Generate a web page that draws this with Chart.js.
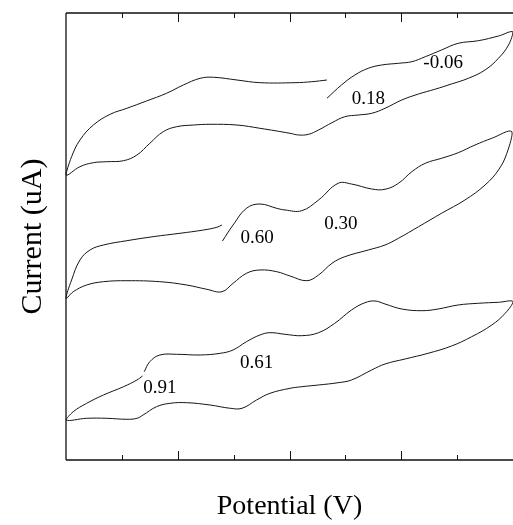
<!DOCTYPE html>
<html>
<head>
<meta charset="utf-8">
<script src="https://cdn.jsdelivr.net/npm/chart.js@4/dist/chart.umd.min.js"></script>
<style>
html,body{margin:0;padding:0;background:#fff;}
#wrap{width:513px;height:525px;position:relative;}
</style>
</head>
<body>
<div id="wrap"><canvas id="c"></canvas></div>
<script>
// Potential axis: 0..8 (tick intervals), Current axis: 0..100 (arbitrary units)
const curveA_x = [4.67,4.40,4.10,3.47,3.06,2.64,2.40,2.10,1.80,1.44,1.09,0.79,0.49,0.25,0.10,0.00,
  0.25,0.49,0.73,1.03,1.27,1.50,1.74,1.98,2.28,2.58,3.06,3.47,4.01,4.16,4.34,4.52,4.76,4.99,5.23,5.47,5.71,6.01,6.31,6.60,6.90,7.20,7.50,7.74,7.92,8.00,
  7.74,7.38,7.02,6.72,6.43,6.19,5.95,5.65,5.41,5.17,4.93,4.67];
const curveA_y = [85.01,84.63,84.41,84.41,85.01,85.62,85.39,83.89,82.04,80.31,78.68,77.34,74.94,71.59,67.85,63.76,
  65.62,66.51,66.73,66.96,68.23,70.85,73.45,74.56,74.94,75.10,74.94,74.21,73.09,72.71,72.86,73.83,75.46,76.80,77.18,77.56,78.68,80.54,81.88,82.93,84.12,85.39,87.25,89.87,92.84,95.75,
  94.85,93.80,93.22,91.72,90.22,89.11,88.75,88.37,87.63,86.13,83.89,80.92];

const curveB_x = [2.79,2.70,2.46,2.04,1.56,1.09,0.67,0.43,0.25,0.10,0.00,
  0.13,0.37,0.67,1.09,1.68,2.16,2.52,2.79,2.99,3.23,3.47,3.77,4.01,4.31,4.52,4.76,4.99,5.41,5.71,5.95,6.31,6.72,7.14,7.50,7.74,7.89,7.98,
  7.62,7.32,7.02,6.72,6.43,6.19,5.95,5.71,5.47,5.11,4.87,4.52,4.22,3.92,3.77,3.47,3.23,2.99,2.80];
const curveB_y = [52.57,52.06,51.45,50.72,49.96,49.06,48.10,46.98,44.74,40.27,36.17,
  37.65,39.15,39.89,40.11,39.89,39.15,38.19,37.65,39.53,41.77,42.51,42.13,41.16,40.11,41.39,44.00,45.48,46.98,48.10,49.60,52.19,55.19,58.17,61.52,64.88,68.61,73.45,
  71.97,70.47,68.75,67.49,66.38,64.50,61.90,60.56,60.63,61.74,61.90,58.17,55.77,55.93,56.31,57.27,56.31,52.57,48.99];

const curveC_x = [1.37,1.27,1.03,0.67,0.37,0.13,0.00,
  0.37,0.73,1.09,1.27,1.38,1.62,1.86,2.16,2.58,2.94,3.15,3.41,3.65,4.01,4.22,4.52,4.87,5.11,5.47,5.71,6.07,6.48,6.90,7.26,7.62,7.86,8.00,
  7.74,7.38,7.02,6.66,6.37,6.01,5.71,5.53,5.35,5.11,4.81,4.52,4.22,3.92,3.65,3.47,3.23,2.99,2.76,2.40,1.98,1.68,1.50,1.40];
const curveC_y = [18.79,17.90,16.40,14.54,12.68,10.81,8.95,
  9.33,9.33,9.11,9.33,10.07,11.92,12.68,12.82,12.30,11.57,11.57,13.42,14.92,16.04,16.40,16.78,17.29,17.90,20.13,21.48,22.60,23.87,25.50,27.58,30.20,32.82,35.41,
  35.28,35.06,34.68,33.78,33.40,33.78,34.90,35.57,35.19,33.56,30.58,28.48,27.81,28.12,28.48,27.96,26.47,24.61,23.87,23.49,23.65,23.49,21.99,19.75];

const labelText = ["-0.06","0.18","0.60","0.30","0.91","0.61"];
const labelX = [6.75,5.41,3.42,4.92,1.68,3.41];
const labelY = [88.75,80.76,49.60,52.73,16.04,21.77];

const majorTicks = [2,4,6];
const minorTicks = [1,3,5,7];

function pts(xs, ys){ return xs.map((x,i)=>({x:x, y:ys[i]})); }

const lineStyle = {borderColor:'#151515', borderWidth:1, pointRadius:0, tension:0.4, showLine:true, fill:false, clip:false};

const framePlugin = {
  id:'frame',
  afterDraw(chart){
    const ctx = chart.ctx, a = chart.chartArea, xs = chart.scales.x, ys = chart.scales.y;
    ctx.save();
    ctx.strokeStyle = '#111';
    ctx.lineWidth = 1.3;
    ctx.beginPath();
    ctx.moveTo(a.left, a.top); ctx.lineTo(a.left, a.bottom);
    ctx.moveTo(a.left, a.top); ctx.lineTo(a.right, a.top);
    ctx.moveTo(a.left, a.bottom); ctx.lineTo(a.right, a.bottom);
    ctx.stroke();
    ctx.lineWidth = 1;
    ctx.beginPath();
    majorTicks.forEach(v=>{
      const px = Math.round(xs.getPixelForValue(v))+0.5;
      ctx.moveTo(px, a.top); ctx.lineTo(px, a.top+9);
      ctx.moveTo(px, a.bottom); ctx.lineTo(px, a.bottom-9);
    });
    minorTicks.forEach(v=>{
      const px = Math.round(xs.getPixelForValue(v))+0.5;
      ctx.moveTo(px, a.top); ctx.lineTo(px, a.top+5);
      ctx.moveTo(px, a.bottom); ctx.lineTo(px, a.bottom-5);
    });
    ctx.stroke();
    ctx.fillStyle = '#000';
    ctx.font = '19px "Liberation Serif", "Times New Roman", serif';
    ctx.textAlign = 'center';
    ctx.textBaseline = 'middle';
    labelText.forEach((t,i)=>{
      ctx.fillText(t, xs.getPixelForValue(labelX[i]), ys.getPixelForValue(labelY[i]));
    });
    ctx.restore();
  }
};

new Chart(document.getElementById('c'), {
  type:'scatter',
  data:{
    datasets:[
      Object.assign({label:'A', data:pts(curveA_x, curveA_y)}, lineStyle),
      Object.assign({label:'B', data:pts(curveB_x, curveB_y)}, lineStyle),
      Object.assign({label:'C', data:pts(curveC_x, curveC_y)}, lineStyle)
    ]
  },
  options:{
    responsive:true,
    maintainAspectRatio:false,
    animation:false,
    layout:{padding:{top:13, right:0, bottom:1.4, left:0}},
    plugins:{legend:{display:false}, tooltip:{enabled:false}},
    scales:{
      x:{type:'linear', min:0, max:8,
         ticks:{display:false}, grid:{display:false, drawTicks:false}, border:{display:false},
         title:{display:true, text:'Potential (V)', color:'#000',
                font:{family:'"Liberation Serif", "Times New Roman", serif', size:28, weight:'normal'},
                padding:{top:30, bottom:0}}},
      y:{type:'linear', min:0, max:100,
         ticks:{display:false}, grid:{display:false, drawTicks:false}, border:{display:false},
         title:{display:true, text:'Current (uA)', color:'#000',
                font:{family:'"Liberation Serif", "Times New Roman", serif', size:30, weight:'normal'},
                padding:{top:15, bottom:15}}}
    }
  },
  plugins:[framePlugin]
});
</script>
</body>
</html>
